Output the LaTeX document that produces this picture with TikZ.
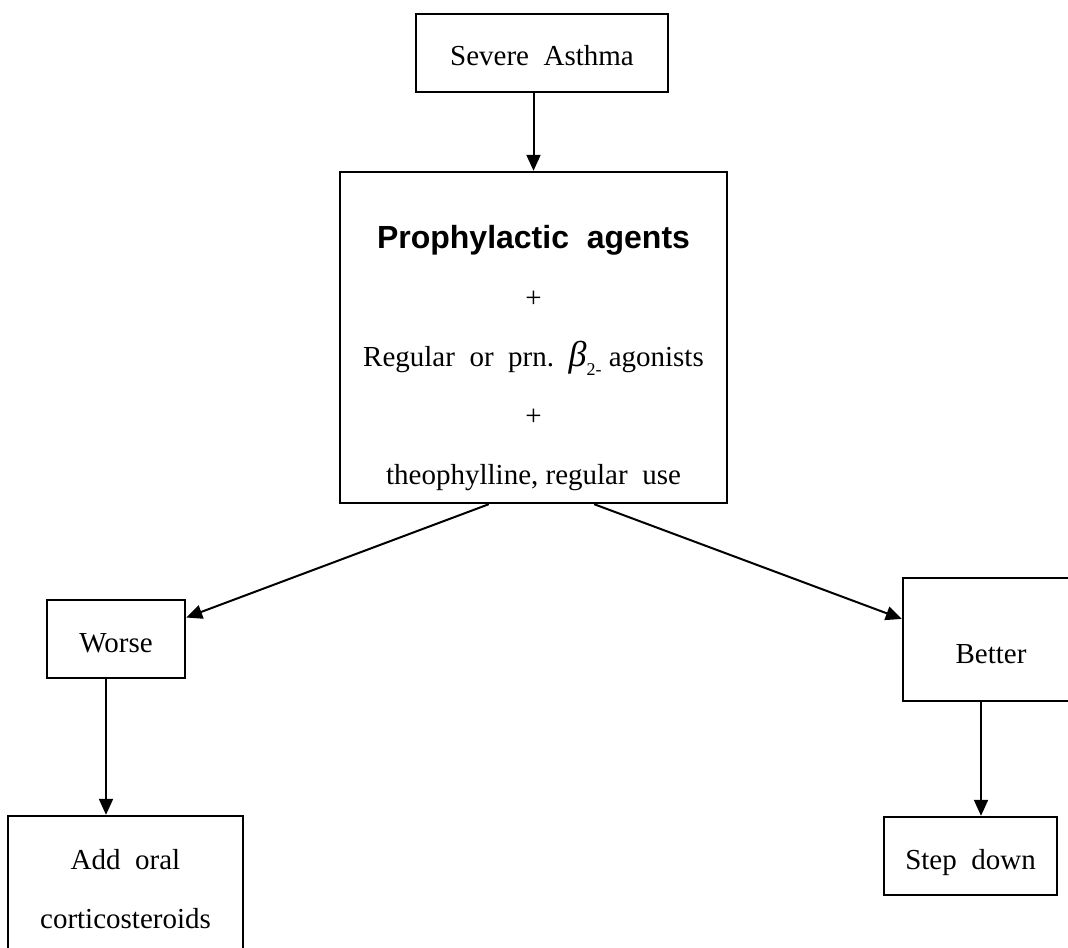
\documentclass[tikz,border=0pt]{standalone}
\usepackage{fontspec}
\setmainfont{Liberation Serif}
\setsansfont{Liberation Sans}
\usetikzlibrary{arrows.meta}

\tikzset{
  box/.style={draw,line width=1.2pt,inner sep=0pt,
    font=\fontsize{14.5}{29.5}\selectfont},
  oneline/.style={text height=16pt,text depth=3pt},
  flow/.style={line width=1pt,-{Triangle[length=8pt,width=7pt]}}
}

\begin{document}
\begin{tikzpicture}[x=0.5pt,y=-0.5pt]
\useasboundingbox (0,0) rectangle (1068,947);
\clip (0,0) rectangle (1068,947);

% Start of the chart.
\node[box,oneline,minimum width=126pt,minimum height=39pt] (severe)
  at (542,53) {Severe\ \ Asthma};

% Big treatment box, text set a little below its middle.
\node[box,minimum width=193.5pt,minimum height=165.5pt] (agents)
  at (533.5,337.5) {};
\node[align=center,anchor=north,inner sep=0pt,
  font=\fontsize{14.5}{29.5}\selectfont] (agentstext) at (533.5,225)
  {{\sffamily\bfseries\fontsize{16}{29.5}\selectfont Prophylactic\ \ agents}\\
   +\\
   Regular\ \ or\ \ prn.\ \ {\fontsize{18}{18}\selectfont\itshape β}%
   \raisebox{-0.7ex}{\fontsize{9}{9}\selectfont 2-}\ agonists\\
   +\\
   theophylline, regular\ \ use};

% Outcomes.
\node[box,oneline,minimum width=69pt,minimum height=39pt] (worse)
  at (116,639) {Worse};
\node[box,text height=26.5pt,text depth=3pt,minimum width=88pt,
  minimum height=61.5pt] (better) at (991,639.5) {Better};

% Next steps.
\node[box,align=center,minimum width=117.5pt,minimum height=73pt] (oral)
  at (125.5,889) {Add\ \ oral\\corticosteroids};
\node[box,oneline,minimum width=86.5pt,minimum height=39pt] (stepdown)
  at (970.5,856) {Step\ \ down};

\draw[flow] (severe.south -| agents.north) -- (agents.north);
\draw[flow] (agents.255) -- (worse.17);
\draw[flow] (agents.290) -- (better.167);
\draw[flow] ([xshift=-5pt]worse.south) -- ([xshift=-5pt]worse.south |- oral.north);
\draw[flow] ([xshift=-5pt]better.south) -- ([xshift=-5pt]better.south |- stepdown.north);

\end{tikzpicture}
\end{document}
